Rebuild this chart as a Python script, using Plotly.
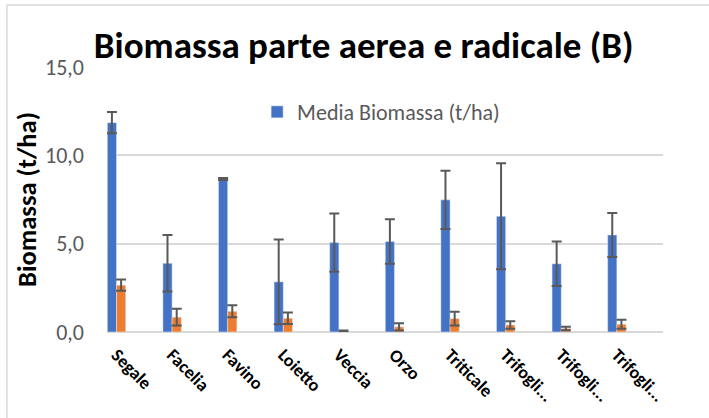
import plotly.graph_objects as go

# Cover crops and measured biomass (t/ha)
categories = ["Segale", "Facelia", "Favino", "Loietto", "Veccia", "Orzo",
              "Triticale", "Trifoglio 1", "Trifoglio 2", "Trifoglio 3"]
tick_labels = ["Segale", "Facelia", "Favino", "Loietto", "Veccia", "Orzo",
               "Triticale", "Trifogli...", "Trifogli...", "Trifogli..."]

# Above-ground biomass: mean and standard deviation
media_biomassa = [11.85, 3.89, 8.66, 2.84, 5.06, 5.12, 7.48, 6.55, 3.86, 5.49]
dev_biomassa = [0.60, 1.60, 0.05, 2.40, 1.65, 1.26, 1.65, 3.00, 1.26, 1.25]

# Root biomass: mean and standard deviation
media_radici = [2.65, 0.84, 1.17, 0.78, 0.06, 0.29, 0.76, 0.40, 0.20, 0.44]
dev_radici = [0.32, 0.47, 0.34, 0.33, 0.02, 0.20, 0.39, 0.21, 0.10, 0.25]

y_ticks = [0, 5, 10, 15]

BLUE = "#4472C4"
ORANGE = "#ED7D31"
ERR = "#595959"
GRID = "#D9D9D9"
FONT = "Carlito, Open Sans, sans-serif"

xpos = list(range(len(categories)))

fig = go.Figure()
fig.add_trace(go.Bar(
    x=xpos, y=media_biomassa, name="Media Biomassa (t/ha)",
    marker=dict(color=BLUE),
    error_y=dict(type="data", array=dev_biomassa, symmetric=True,
                 color=ERR, thickness=2, width=5),
    hovertext=categories,
))
fig.add_trace(go.Bar(
    x=xpos, y=media_radici, name="Media Radici (t/ha)",
    marker=dict(color=ORANGE), showlegend=False,
    error_y=dict(type="data", array=dev_radici, symmetric=True,
                 color=ERR, thickness=2, width=5),
    hovertext=categories,
))

fig.update_layout(
    width=709, height=418,
    margin=dict(l=107, r=46, t=67, b=84),
    paper_bgcolor="white", plot_bgcolor="white",
    separators=",.",
    barmode="group", bargap=0.669, bargroupgap=0,
    font=dict(family=FONT, color="#595959"),
    title=dict(
        text="Biomassa parte aerea e radicale (B)",
        font=dict(family=FONT, size=37, color="black", weight="bold"),
        xref="container", yref="container",
        x=0.513, xanchor="center", y=0.892, yanchor="middle",
    ),
    legend=dict(
        x=0.27, y=0.83, xanchor="left", yanchor="middle",
        font=dict(family=FONT, size=22, color="#595959"),
        bgcolor="rgba(0,0,0,0)",
    ),
    xaxis=dict(
        range=[-0.171, 9.83],
        tickmode="array", tickvals=xpos, ticktext=tick_labels,
        tickangle=45, showgrid=False, zeroline=False, showline=False,
        ticks="", ticklabelstandoff=8,
        tickfont=dict(family=FONT, size=18, color="black", weight="bold"),
    ),
    yaxis=dict(
        range=[0, 15], tickmode="array", tickvals=y_ticks,
        tickformat=".1f", showgrid=True, gridcolor=GRID, gridwidth=1.5,
        zeroline=True, zerolinecolor=GRID, zerolinewidth=1.5,
        showline=False, ticks="", ticklabelstandoff=22,
        tickfont=dict(family=FONT, size=22, color="#595959"),
        title=dict(text="Biomassa (t/ha)", standoff=0,
                   font=dict(family=FONT, size=26.5, color="black", weight="bold")),
    ),
)

# Outer chart frame
fig.add_shape(type="rect", xref="paper", yref="paper",
              x0=-0.18, x1=1.09, y0=-0.33, y1=1.234,
              line=dict(color=GRID, width=1.5), fillcolor="rgba(0,0,0,0)",
              layer="below")

fig.write_html("out.html")
